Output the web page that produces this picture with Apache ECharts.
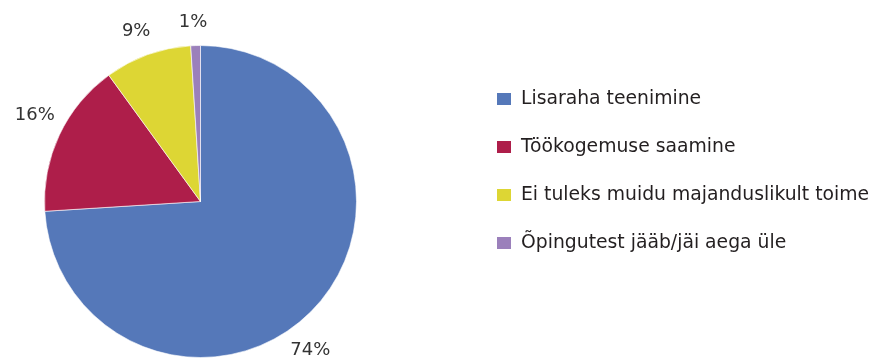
<!DOCTYPE html>
<html>
<head>
<meta charset="utf-8">
<style>
  html, body { margin: 0; padding: 0; background: #ffffff; }
  #chart { width: 873px; height: 358px; }
</style>
<script src="https://cdn.jsdelivr.net/npm/echarts@6/dist/echarts.min.js"></script>
</head>
<body>
<div id="chart"></div>
<script>
// Reasons for working while studying (share of respondents, %)
const categories = [
  'Lisaraha teenimine',
  'Töökogemuse saamine',
  'Ei tuleks muidu majanduslikult toime',
  'Õpingutest jääb/jäi aega üle'
];
const shares = [74, 16, 9, 1];
const colors = ['#5578b9', '#ae1e4a', '#ddd634', '#9b80bb'];

// Direction (degrees, counter-clockwise from 3 o'clock) and distance from the
// pie centre used to place each percentage label
const labelAngles = [-53.6, 152.4, 110.7, 92.4];
const labelDistances = [185, 187, 182, 179];

const pieCenter = [200.5, 201.5];
const pieRadius = 156;

const chart = echarts.init(document.getElementById('chart'), null, { renderer: 'canvas' });

chart.setOption({
  animation: false,
  color: colors,
  legend: {
    orient: 'vertical',
    left: 495,
    top: 89,
    padding: 0,
    itemWidth: 16,
    itemHeight: 14,
    itemGap: 28,
    icon: 'rect',
    textStyle: {
      fontFamily: 'DejaVu Sans',
      fontSize: 18.8,
      lineHeight: 20,
      color: '#231f20',
      padding: [0, 0, 0, 4]
    },
    data: categories
  },
  series: [{
    type: 'pie',
    center: pieCenter,
    radius: pieRadius,
    startAngle: 90,
    clockwise: true,
    avoidLabelOverlap: false,
    itemStyle: { borderColor: '#ffffff', borderWidth: 0.6 },
    label: {
      show: true,
      position: 'outside',
      formatter: '{c}%',
      fontFamily: 'DejaVu Sans',
      fontSize: 18,
      color: '#333333'
    },
    labelLine: { show: false, length: 10, length2: 0 },
    labelLayout: function (params) {
      const i = params.dataIndex;
      const a = labelAngles[i] * Math.PI / 180;
      return {
        x: pieCenter[0] + labelDistances[i] * Math.cos(a),
        y: pieCenter[1] - labelDistances[i] * Math.sin(a),
        align: 'center',
        verticalAlign: 'middle'
      };
    },
    emphasis: { disabled: true },
    data: categories.map((name, i) => ({ name: name, value: shares[i] }))
  }]
});
</script>
</body>
</html>
